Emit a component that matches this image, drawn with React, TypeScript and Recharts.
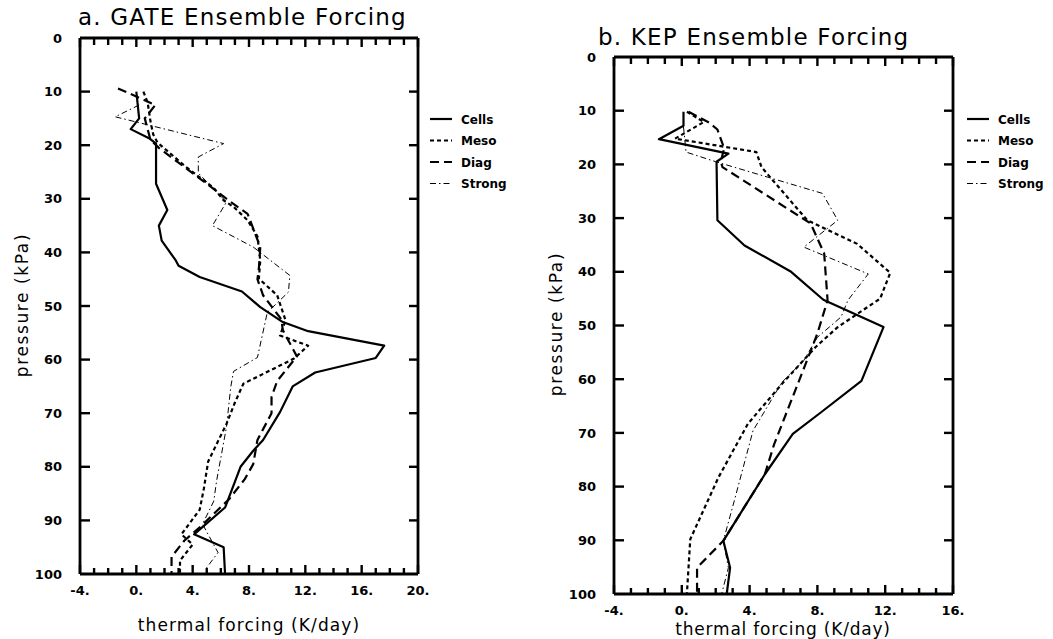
import React from 'react';
import { LineChart, Line, XAxis, YAxis, Legend } from 'recharts';

// ---------- axis ticks ----------
const pressureTicks = [0, 10, 20, 30, 40, 50, 60, 70, 80, 90, 100];
const innerPressureTicks = [10, 20, 30, 40, 50, 60, 70, 80, 90];
const gateMajorTicks = [-4, 0, 4, 8, 12, 16, 20];
const gateMinorTicks = [-4, -3, -2, -1, 0, 1, 2, 3, 4, 5, 6, 7, 8, 9, 10, 11, 12, 13, 14, 15, 16, 17, 18, 19, 20];
const kepMajorTicks = [-4, 0, 4, 8, 12, 16];
const kepMinorTicks = [-4, -3, -2, -1, 0, 1, 2, 3, 4, 5, 6, 7, 8, 9, 10, 11, 12, 13, 14, 15, 16];

// ---------- GATE (panel a) ----------
const gateCellsP = [10, 15, 17, 18.7, 19.7, 27.2, 32.1, 35, 37.8, 41.5, 42.5, 44.6, 47.3, 50.2, 53, 54.7, 57.4, 59.7, 62.4, 65, 69.8, 75, 77, 80, 87.6, 92.6, 95, 100];
const gateCellsT = [0.0, 0.2, -0.4, 0.9, 1.4, 1.4, 2.2, 1.6, 1.8, 2.8, 3.0, 4.5, 7.5, 8.8, 10.4, 12.2, 17.6, 17.0, 12.7, 11.1, 10.2, 9.0, 8.3, 7.4, 6.3, 4.1, 6.2, 6.3];

const gateMesoP = [10, 12, 15.5, 18, 19.5, 24, 28, 30.3, 31.5, 34, 37, 41.5, 44.9, 48, 52.7, 55.5, 57.4, 59.8, 64.5, 68, 72, 79, 84, 88, 92.6, 94.5, 97.5, 100];
const gateMesoT = [0.5, 0.8, 1.0, 1.2, 1.5, 3.5, 5.5, 6.2, 6.9, 7.9, 8.6, 8.8, 8.7, 10.0, 10.6, 10.2, 12.2, 11.2, 7.6, 7.0, 6.4, 5.1, 4.8, 4.5, 3.2, 4.0, 3.1, 3.1];

const gateDiagP = [9.4, 12.5, 15, 19, 20.5, 27.2, 30.6, 32.8, 39, 43, 45, 48, 52.5, 54.5, 59.4, 64, 67, 70, 75, 79.5, 82.3, 86, 91.3, 93.8, 96.8, 100];
const gateDiagT = [-1.3, 1.35, 0.6, 1.0, 1.6, 5.0, 6.7, 7.9, 8.8, 8.7, 8.6, 9.0, 10.3, 10.4, 11.4, 10.0, 9.6, 9.6, 8.6, 8.3, 7.7, 6.6, 4.5, 3.4, 2.5, 2.5];

const gateStrongP = [12.5, 14.7, 19.7, 22.2, 25.2, 30.6, 35, 39, 44.3, 47.4, 51.2, 59.6, 62.2, 65.2, 72.6, 82.6, 86.4, 90.7, 96, 98.8, 100];
const gateStrongT = [0.2, -1.5, 6.2, 4.4, 4.4, 6.4, 5.4, 8.3, 10.9, 10.8, 9.3, 8.6, 6.9, 6.7, 6.4, 5.7, 5.5, 4.7, 5.8, 5.0, 5.0];

// ---------- KEP (panel b) ----------
const kepCellsP = [10.2, 12.8, 15.3, 18, 19.5, 30.4, 35.1, 40, 45.2, 50.3, 60.3, 66.2, 70.2, 77.7, 90.1, 95.1, 100];
const kepCellsT = [0.1, 0.1, -1.35, 2.75, 2.05, 2.1, 3.7, 6.45, 8.35, 11.9, 10.6, 8.2, 6.55, 4.9, 2.45, 2.85, 2.65];

const kepMesoP = [10.2, 12.1, 15.2, 17.7, 20.5, 30.4, 34.8, 40.2, 45, 50.3, 54, 60.9, 68.3, 78.3, 89.8, 100];
const kepMesoT = [0.3, 1.3, -0.4, 4.4, 4.7, 7.4, 10.35, 12.3, 11.7, 9.2, 7.9, 5.9, 3.9, 2.16, 0.5, 0.3];

const kepDiagP = [10.2, 12.2, 13.5, 17, 19.5, 20.5, 31, 36.6, 45.3, 51.5, 57.2, 72.1, 77.7, 90.1, 95.1, 100];
const kepDiagT = [0.4, 1.6, 2.1, 2.5, 2.3, 2.4, 7.6, 8.4, 8.6, 8.0, 7.3, 5.45, 4.9, 2.45, 0.9, 0.9];

const kepStrongP = [13, 17.7, 19.5, 25.4, 30.4, 35.4, 40.4, 45.3, 48.4, 52.2, 56.5, 60.6, 69.6, 82.6, 90.1, 95.1, 100];
const kepStrongT = [0.1, 0.25, 2.0, 8.3, 9.2, 7.2, 11.0, 9.8, 9.4, 8.0, 7.2, 5.9, 4.2, 3.1, 2.45, 2.75, 2.35];

const seriesNames = ['Cells', 'Meso', 'Diag', 'Strong'];

const FONT = '"DejaVu Sans", sans-serif';

const styles: Record<string, { width: number; dash?: string }> = {
  Cells: { width: 2.2 },
  Meso: { width: 2.2, dash: '4 3' },
  Diag: { width: 2.2, dash: '9 5' },
  Strong: { width: 1, dash: '6 3 1.5 3' },
};

const rows = (p: number[], t: number[]) => p.map((pv, i) => ({ p: pv, t: t[i] }));

type Seg = [number, number, number, number]; // p1, t1, p2, t2

const AXIS_LINE = { stroke: '#000', strokeWidth: 2.8 };
const LABEL_TICK = { fontFamily: FONT, fontWeight: 'bold', fontSize: 13, fill: '#000' };
const withDot = (v: number) => `${v}.`;

const LegendContent = () => (
  <svg width={110} height={90}>
    {seriesNames.map((n, i) => (
      <g key={n}>
        <line
          x1={0}
          x2={22}
          y1={10 + i * 21.5}
          y2={10 + i * 21.5}
          stroke="#000"
          strokeWidth={styles[n].width}
          strokeDasharray={styles[n].dash}
        />
        <text x={31} y={14.5 + i * 21.5} fontFamily={FONT} fontWeight="bold" fontSize={12} fill="#000">
          {n}
        </text>
      </g>
    ))}
  </svg>
);

type PanelProps = {
  left: number;
  width: number;
  margin: { top: number; right: number; bottom: number; left: number };
  xMax: number;
  majorTicks: number[];
  minorTicks: number[];
  xPerPx: number;
  data: { name: string; p: number[]; t: number[] }[];
  legendLeft: number;
  legendTop: number;
};

const PPX = 100 / 535; // kPa per pixel

const Panel = ({ left, width, margin, xMax, majorTicks, minorTicks, xPerPx, data, legendLeft, legendTop }: PanelProps) => {
  const isMajor = (v: number) => majorTicks.includes(v);
  const tickSegs: Seg[] = [
    ...minorTicks.map((v): Seg => [100, v, 100 - (isMajor(v) ? 9 : 6) * PPX, v]),
    ...minorTicks.map((v): Seg => [0, v, (isMajor(v) ? 9 : 7) * PPX, v]),
    ...innerPressureTicks.map((p): Seg => [p, -4, p, -4 + 10 * xPerPx]),
    ...innerPressureTicks.map((p): Seg => [p, xMax - 9 * xPerPx, p, xMax]),
  ];
  return (
    <div style={{ position: 'absolute', left, top: 0 }}>
      <LineChart width={width} height={639} layout="vertical" margin={margin}>
        <XAxis
          xAxisId="b"
          type="number"
          orientation="bottom"
          domain={[-4, xMax]}
          ticks={majorTicks}
          interval={0}
          height={30}
          tickSize={0}
          tickMargin={12}
          tick={LABEL_TICK}
          tickFormatter={withDot}
          tickLine={false}
          axisLine={AXIS_LINE}
        />
        <XAxis
          xAxisId="t"
          type="number"
          orientation="top"
          domain={[-4, xMax]}
          ticks={majorTicks}
          interval={0}
          height={1}
          tick={false}
          tickLine={false}
          axisLine={AXIS_LINE}
        />
        <YAxis
          yAxisId="l"
          type="number"
          dataKey="p"
          orientation="left"
          domain={[0, 100]}
          ticks={pressureTicks}
          interval={0}
          width={50}
          tickSize={0}
          tickMargin={18}
          tick={LABEL_TICK}
          tickLine={false}
          axisLine={AXIS_LINE}
        />
        <YAxis
          yAxisId="r"
          type="number"
          dataKey="p"
          orientation="right"
          domain={[0, 100]}
          ticks={pressureTicks}
          interval={0}
          width={1}
          tick={false}
          tickLine={false}
          axisLine={AXIS_LINE}
        />
        {tickSegs.map(([p1, t1, p2, t2], i) => (
          <Line
            key={`tick${i}`}
            data={[
              { p: p1, t: t1 },
              { p: p2, t: t2 },
            ]}
            dataKey="t"
            xAxisId="b"
            yAxisId="l"
            type="linear"
            dot={false}
            activeDot={false}
            legendType="none"
            stroke="#000"
            strokeWidth={2.4}
            isAnimationActive={false}
          />
        ))}
        {[...data].reverse().map((s) => (
          <Line
            key={s.name}
            name={s.name}
            data={rows(s.p, s.t)}
            dataKey="t"
            xAxisId="b"
            yAxisId="l"
            type="linear"
            dot={false}
            stroke="#000"
            strokeWidth={styles[s.name].width}
            strokeDasharray={styles[s.name].dash}
            strokeLinejoin="round"
            isAnimationActive={false}
          />
        ))}
        <Legend
          layout="vertical"
          align="center"
          verticalAlign="middle"
          content={<LegendContent />}
          wrapperStyle={{ left: legendLeft, top: legendTop, width: 110, height: 90 }}
        />
      </LineChart>
    </div>
  );
};

const textStyle: React.CSSProperties = {
  position: 'absolute',
  fontFamily: FONT,
  color: '#000',
  whiteSpace: 'nowrap',
  lineHeight: 1,
};

export default function App() {
  return (
    <div style={{ position: 'absolute', left: 0, top: 0, width: 1053, height: 639, background: '#fff', overflow: 'hidden' }}>
      <Panel
        left={0}
        width={480}
        margin={{ top: 37, right: 61, bottom: 35, left: 30 }}
        xMax={20}
        majorTicks={gateMajorTicks}
        minorTicks={gateMinorTicks}
        xPerPx={24 / 338}
        data={[
          { name: 'Cells', p: gateCellsP, t: gateCellsT },
          { name: 'Meso', p: gateMesoP, t: gateMesoT },
          { name: 'Diag', p: gateDiagP, t: gateDiagT },
          { name: 'Strong', p: gateStrongP, t: gateStrongT },
        ]}
        legendLeft={430}
        legendTop={109}
      />
      <Panel
        left={520}
        width={533}
        margin={{ top: 56, right: 99, bottom: 15, left: 44 }}
        xMax={16}
        majorTicks={kepMajorTicks}
        minorTicks={kepMinorTicks}
        xPerPx={20 / 339}
        data={[
          { name: 'Cells', p: kepCellsP, t: kepCellsT },
          { name: 'Meso', p: kepMesoP, t: kepMesoT },
          { name: 'Diag', p: kepDiagP, t: kepDiagT },
          { name: 'Strong', p: kepStrongP, t: kepStrongT },
        ]}
        legendLeft={447}
        legendTop={109}
      />
      <div style={{ ...textStyle, left: 78, top: 6, fontSize: 23, letterSpacing: 1.2 }}>a. GATE Ensemble Forcing</div>
      <div style={{ ...textStyle, left: 598, top: 26, fontSize: 23, letterSpacing: 1.2 }}>b. KEP Ensemble Forcing</div>
      <div style={{ ...textStyle, left: 249, top: 617, fontSize: 17, letterSpacing: 1.1, transform: 'translateX(-50%)' }}>
        thermal forcing (K/day)
      </div>
      <div style={{ ...textStyle, left: 783, top: 621, fontSize: 17, letterSpacing: 0.8, transform: 'translateX(-50%)' }}>
        thermal forcing (K/day)
      </div>
      <div
        style={{
          ...textStyle,
          left: 22,
          top: 305,
          fontSize: 17,
          letterSpacing: 1.6,
          transform: 'translate(-50%, -50%) rotate(-90deg)',
        }}
      >
        pressure (kPa)
      </div>
      <div
        style={{
          ...textStyle,
          left: 556,
          top: 324,
          fontSize: 17,
          letterSpacing: 1.6,
          transform: 'translate(-50%, -50%) rotate(-90deg)',
        }}
      >
        pressure (kPa)
      </div>
    </div>
  );
}
